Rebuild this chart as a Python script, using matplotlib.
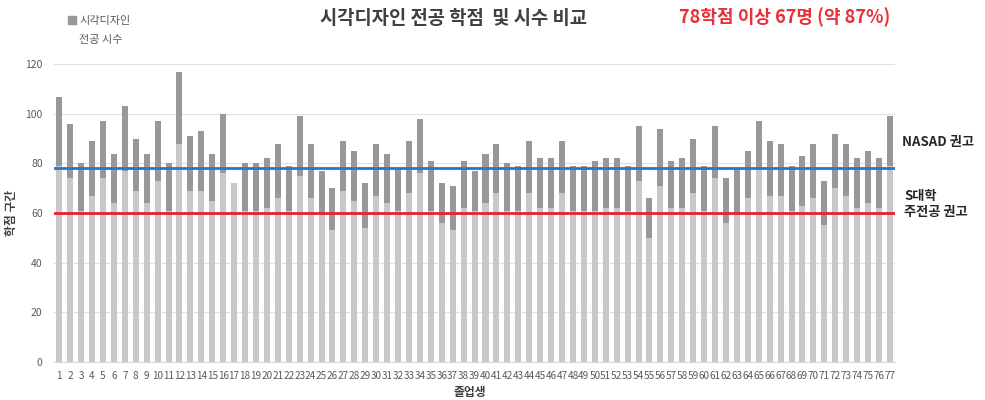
import numpy as np
import matplotlib
matplotlib.use('Agg')
import matplotlib.pyplot as plt
from matplotlib.patches import Patch

plt.rcParams['font.family'] = ['Noto Sans CJK KR', 'DejaVu Sans']

# 졸업생 번호
students = list(range(1, 78))

# 전공 학점 합계 (막대 전체 높이)
total_credits = [107, 96, 80, 89, 97, 84, 103, 90, 84, 97,
                 80, 117, 91, 93, 84, 100, 72, 80, 80, 82,
                 88, 79, 99, 88, 77, 70, 89, 85, 72, 88,
                 84, 78, 89, 98, 81, 72, 71, 81, 77, 84,
                 88, 80, 79, 89, 82, 82, 89, 79, 79, 81,
                 82, 82, 79, 95, 66, 94, 81, 82, 90, 79,
                 95, 74, 78, 85, 97, 89, 88, 79, 83, 88,
                 73, 92, 88, 82, 85, 82, 99]

# 시각디자인 전공 시수 (아래 밝은 막대)
major_hours = [79, 74, 61, 67, 74, 64, 77, 69, 64, 73,
               61, 88, 69, 69, 65, 76, 72, 61, 61, 62,
               66, 61, 75, 66, 59, 53, 69, 65, 54, 67,
               64, 61, 68, 76, 61, 56, 53, 62, 61, 64,
               68, 61, 61, 68, 62, 62, 68, 61, 61, 61,
               62, 62, 61, 73, 50, 71, 62, 62, 68, 61,
               74, 56, 59, 66, 78, 67, 67, 61, 63, 66,
               55, 70, 67, 62, 64, 62, 79]

nasad_line = 78
suniv_line = 60

light_gray = '#c8c8ca'
dark_gray = '#98989b'

fig = plt.figure(figsize=(9.85, 4.0), dpi=100)
ax = fig.add_axes([0.0546, 0.0957, 0.8544, 0.7435])

x = np.array(students)
total = np.array(total_credits)
light = np.array(major_hours)
ax.bar(x, light, width=0.55, color=light_gray, zorder=2)
ax.bar(x, total - light, bottom=light, width=0.55, color=dark_gray, zorder=2)

ax.axhline(nasad_line, color='#2379c4', lw=2.0, zorder=3)
ax.axhline(suniv_line, color='#e8212b', lw=2.0, zorder=3)

ax.set_xlim(0.5, 77.5)
ax.set_ylim(0, 120)
ax.set_yticks(range(0, 121, 20))
ax.set_xticks(x)
ax.set_xticklabels([str(s) for s in students])
ax.yaxis.grid(True, color='#e2e2e2', lw=0.9, zorder=0)
ax.set_axisbelow(True)
for s in ['top', 'right', 'left']:
    ax.spines[s].set_visible(False)
ax.spines['bottom'].set_color('#d9d9d9')
ax.tick_params(axis='both', length=0, labelsize=7.5, labelcolor='#595959')
ax.tick_params(axis='x', pad=7, labelsize=7.2)
ax.tick_params(axis='y', pad=8)

ax.set_ylabel('학점 구간', fontsize=8.5, fontweight='bold', color='#404040')
ax.set_xlabel('졸업생', fontsize=8.5, fontweight='bold', color='#404040')
ax.yaxis.set_label_coords(-0.05, 0.5)
ax.xaxis.set_label_coords(0.4945, -0.105)
ax.xaxis.label.set_va('center')
ax.yaxis.label.set_va('center')

fig.text(0.46, 0.955, '시각디자인 전공 학점  및 시수 비교', ha='center', va='center',
         fontsize=13.5, fontweight='bold', color='#404040')
fig.text(0.797, 0.957, '78학점 이상 67명 (약 87%)', ha='center', va='center',
         fontsize=13, fontweight='bold', color='#e8303a')

fig.text(0.916, 0.645, 'NASAD 권고', ha='left', va='center',
         fontsize=9.5, fontweight='bold', color='#262626')
fig.text(0.918, 0.490, 'S대학\n주전공 권고', ha='left', va='center',
         fontsize=9.5, fontweight='bold', color='#262626', linespacing=1.2)

handles = [Patch(color=dark_gray), Patch(color='none')]
fig.legend(handles, ['시각디자인', '전공 시수'], loc='upper left',
           bbox_to_anchor=(0.059, 0.985), frameon=False, fontsize=8,
           handlelength=0.7, handleheight=0.7, handletextpad=0.3,
           labelspacing=0.85, labelcolor='#595959')

fig.savefig('out.png', dpi=100)
